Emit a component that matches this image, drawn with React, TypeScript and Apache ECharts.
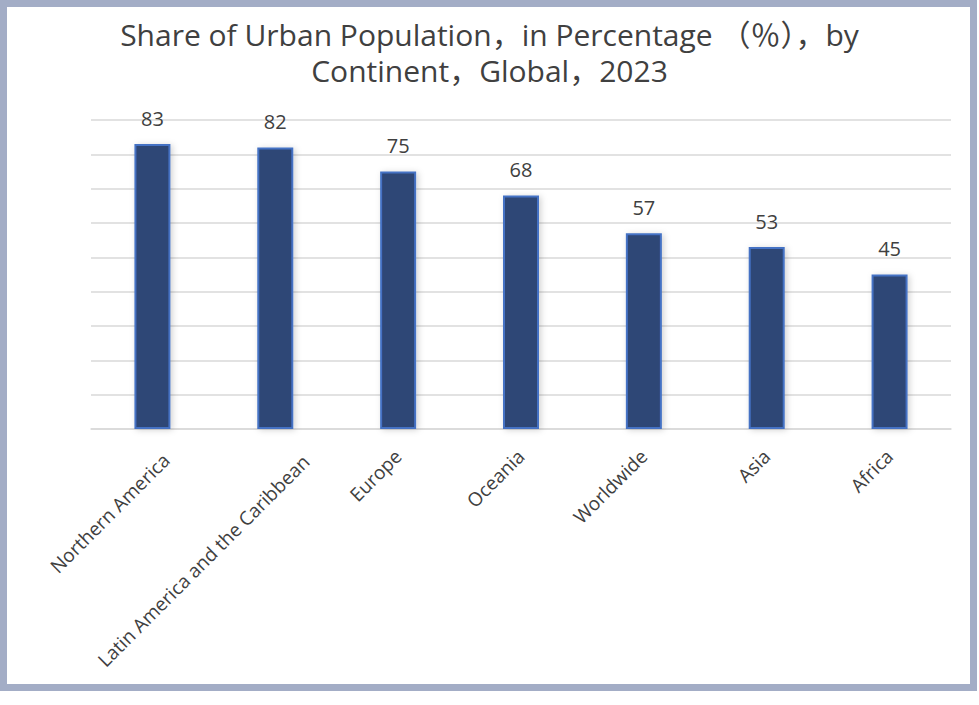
import React, { useEffect, useRef } from "react";
import * as echarts from "echarts";

const categories = [
  "Northern America",
  "Latin America and the Caribbean",
  "Europe",
  "Oceania",
  "Worldwide",
  "Asia",
  "Africa",
];
const urbanShare = [83, 82, 75, 68, 57, 53, 45];
const titleText = "Share of Urban Population，in Percentage （％），by\nContinent，Global，2023";

export default function App() {
  const ref = useRef<HTMLDivElement>(null);
  useEffect(() => {
    if (!ref.current) return;
    const chart = echarts.init(ref.current, null, { renderer: "svg" });
    const font = "'Open Sans', 'Noto Sans CJK SC', sans-serif";
    const labelShift: Record<string, { padding: number[]; verticalAlign: string; lineHeight: number }> = {
      "Northern America": { padding: [0, -7, 0, 0], verticalAlign: "top", lineHeight: 25 },
      "Latin America and the Caribbean": { padding: [0, -18, 0, 0], verticalAlign: "top", lineHeight: 51 },
    };
    const catData = categories.map((c) =>
      labelShift[c] ? { value: c, textStyle: labelShift[c] } : c
    );
    chart.setOption({
      animation: false,
      backgroundColor: "#ffffff",
      textStyle: { fontFamily: font },
      title: {
        text: titleText,
        left: "center",
        top: 11,
        textStyle: {
          fontFamily: font,
          fontSize: 30,
          fontWeight: "normal",
          color: "#404040",
          lineHeight: 36,
        },
      },
      graphic: [
        {
          type: "rect",
          shape: { x: 3.5, y: 3.5, width: 970, height: 684 },
          style: { fill: "none", stroke: "#a3adc6", lineWidth: 7 },
          z: 100,
        },
      ],
      grid: { left: 91, right: 28, top: 120, bottom: 276 },
      xAxis: {
        type: "category",
        data: catData,
        axisTick: { show: false },
        axisLine: { lineStyle: { color: "#d9d9d9", width: 1.5 } },
        axisLabel: {
          rotate: 45,
          interval: 0,
          margin: 24,
          fontSize: 19,
          color: "#404040",
          fontFamily: font,
        },
      },
      yAxis: {
        type: "value",
        min: 0,
        max: 90,
        interval: 10,
        axisLabel: { show: false },
        axisLine: { show: false },
        axisTick: { show: false },
        splitLine: { lineStyle: { color: "#d9d9d9", width: 1.5 } },
      },
      series: [
        {
          type: "bar",
          data: urbanShare,
          barWidth: 36,
          itemStyle: {
            color: "#2e4676",
            borderColor: "#4472c4",
            borderWidth: 2,
            shadowColor: "rgba(0,0,0,0.18)",
            shadowBlur: 6,
            shadowOffsetX: 2,
            shadowOffsetY: 1,
          },
          label: {
            show: true,
            position: "top",
            distance: 16,
            fontSize: 20,
            color: "#404040",
            fontFamily: font,
          },
        },
      ],
    });
    return () => chart.dispose();
  }, []);
  return (
    <div
      ref={ref}
      style={{ position: "absolute", left: 0, top: 0, width: 979, height: 705 }}
    />
  );
}
